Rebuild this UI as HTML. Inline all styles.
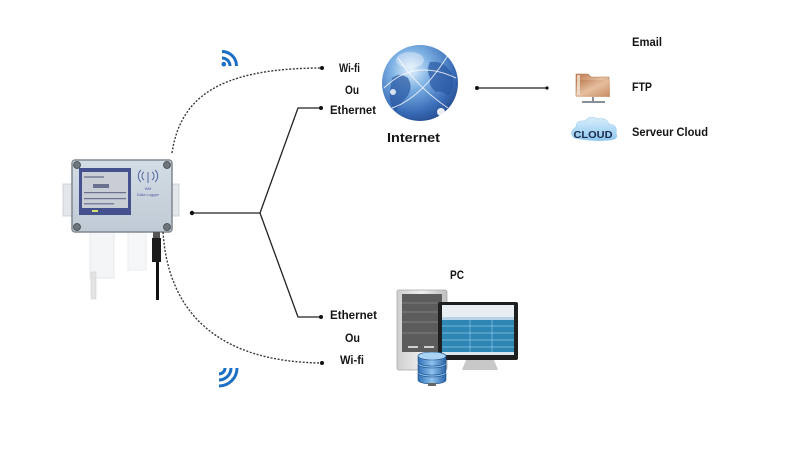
<!DOCTYPE html>
<html>
<head>
<meta charset="utf-8">
<style>
html,body{margin:0;padding:0;background:#fff;}
svg{display:block;}
text{font-family:"Liberation Sans",sans-serif;font-weight:bold;fill:#151515;}
</style>
</head>
<body>
<svg width="800" height="450" viewBox="0 0 800 450" xmlns="http://www.w3.org/2000/svg">
<defs>
  <radialGradient id="globe" cx="0.38" cy="0.32" r="0.75">
    <stop offset="0" stop-color="#e3f1fc"/>
    <stop offset="0.35" stop-color="#7cb0e3"/>
    <stop offset="0.75" stop-color="#3a6db8"/>
    <stop offset="1" stop-color="#23498c"/>
  </radialGradient>
  <linearGradient id="folder" x1="0" y1="0" x2="1" y2="1">
    <stop offset="0" stop-color="#b9764a"/>
    <stop offset="0.5" stop-color="#e6c0a0"/>
    <stop offset="1" stop-color="#c68a60"/>
  </linearGradient>
  <linearGradient id="box" x1="0" y1="0" x2="0" y2="1">
    <stop offset="0" stop-color="#d3dde6"/>
    <stop offset="1" stop-color="#bfcad4"/>
  </linearGradient>
  <linearGradient id="tower" x1="0" y1="0" x2="1" y2="0">
    <stop offset="0" stop-color="#cfcfcf"/>
    <stop offset="0.5" stop-color="#efefef"/>
    <stop offset="1" stop-color="#bdbdbd"/>
  </linearGradient>
  <linearGradient id="db" x1="0" y1="0" x2="1" y2="0">
    <stop offset="0" stop-color="#2f6fb5"/>
    <stop offset="0.5" stop-color="#8ec2ee"/>
    <stop offset="1" stop-color="#2b64a8"/>
  </linearGradient>
  <linearGradient id="cloud" x1="0" y1="0" x2="0" y2="1">
    <stop offset="0" stop-color="#d8eefc"/>
    <stop offset="1" stop-color="#8cc7ef"/>
  </linearGradient>
</defs>

<!-- ===== Device (data logger) ===== -->
<rect x="90" y="230" width="24" height="48" fill="#f4f5f6" stroke="#e6e8ea" stroke-width="1"/>
<rect x="128" y="230" width="18" height="40" fill="#f6f7f8" stroke="#eaecee" stroke-width="1"/>
<rect x="91" y="272" width="5" height="27" fill="#e3e3e3" stroke="#d3d3d3" stroke-width="0.6"/>
<rect x="63" y="184" width="10" height="32" fill="#e4e7ea" stroke="#c5cbd0" stroke-width="0.8"/>
<rect x="171" y="184" width="8" height="32" fill="#e4e7ea" stroke="#c5cbd0" stroke-width="0.8"/>
<rect x="72" y="160" width="100" height="72" rx="3" fill="url(#box)" stroke="#7e8890" stroke-width="1.5"/>
<circle cx="77" cy="165" r="3.5" fill="#6d747a" stroke="#3f4448" stroke-width="0.8"/>
<circle cx="167" cy="165" r="3.5" fill="#6d747a" stroke="#3f4448" stroke-width="0.8"/>
<circle cx="77" cy="227" r="3.5" fill="#6d747a" stroke="#3f4448" stroke-width="0.8"/>
<circle cx="167" cy="227" r="3.5" fill="#6d747a" stroke="#3f4448" stroke-width="0.8"/>
<rect x="79" y="168" width="52" height="47" fill="#44518e"/>
<rect x="82" y="172" width="46" height="36" fill="#c9cdd6"/>
<rect x="84" y="176" width="20" height="2" fill="#8a90a6"/>
<rect x="93" y="184" width="16" height="4" fill="#6b7290"/>
<rect x="84" y="192" width="42" height="1.2" fill="#6b7290"/>
<rect x="84" y="198" width="42" height="1.2" fill="#6b7290"/>
<rect x="84" y="203" width="30" height="1.5" fill="#7b82a0"/>
<rect x="92" y="210" width="6" height="2" fill="#d8e070"/>
<g stroke="#4a5aa0" stroke-width="0.9" fill="none">
  <line x1="148" y1="172" x2="148" y2="183"/>
  <path d="M144,172 a5,5 0 0 0 0,8"/>
  <path d="M152,172 a5,5 0 0 1 0,8"/>
  <path d="M141,170 a8,8 0 0 0 0,12"/>
  <path d="M155,170 a8,8 0 0 1 0,12"/>
</g>
<text x="148" y="190" font-size="4" text-anchor="middle" style="fill:#4a5aa0;font-weight:normal">Wifi</text>
<text x="148" y="196" font-size="4" text-anchor="middle" style="fill:#4a5aa0;font-weight:normal">Data Logger</text>
<rect x="153" y="232" width="7" height="6" fill="#555"/>
<rect x="152" y="238" width="9" height="24" fill="#1b1b1b"/>
<rect x="156" y="262" width="3" height="38" fill="#111"/>

<!-- ===== Connectors ===== -->
<g fill="none" stroke="#3a3a3a" stroke-width="1.4" stroke-dasharray="2 1.6">
  <path d="M172,153 C180,100 215,68 322,68"/>
  <path d="M163,232 C168,310 215,362 322,363"/>
</g>
<g fill="none" stroke="#222" stroke-width="1.3">
  <polyline points="192,213 260,213 298,108 321,108"/>
  <polyline points="260,213 298,317 321,317"/>
  <line x1="477" y1="88" x2="547" y2="88"/>
</g>
<g fill="#111">
  <circle cx="192" cy="213" r="2.2"/>
  <circle cx="322" cy="68" r="2"/>
  <circle cx="321" cy="108" r="2"/>
  <circle cx="321" cy="317" r="2"/>
  <circle cx="322" cy="363" r="2"/>
  <circle cx="477" cy="88" r="2"/>
  <circle cx="547" cy="88" r="1.6"/>
</g>

<!-- ===== Wifi icons ===== -->
<g fill="none" stroke="#1c6fc4" stroke-width="3">
  <path d="M222,58 a8,8 0 0 1 8,8"/>
  <path d="M222,51.5 a14.5,14.5 0 0 1 14.5,14.5"/>
</g>
<circle cx="223.8" cy="64.2" r="2.3" fill="#1c6fc4"/>
<g fill="none" stroke="#1c6fc4" stroke-width="3">
  <path d="M225,368 a6,6 0 0 1 -6,6"/>
  <path d="M231,368 a12,12 0 0 1 -12,12"/>
  <path d="M237,368 a18,18 0 0 1 -18,18"/>
</g>

<!-- ===== Labels ===== -->
<text x="339" y="72" font-size="12" textLength="21" lengthAdjust="spacingAndGlyphs">Wi-fi</text>
<text x="345" y="94" font-size="12" textLength="14" lengthAdjust="spacingAndGlyphs">Ou</text>
<text x="330" y="114" font-size="12" textLength="46" lengthAdjust="spacingAndGlyphs">Ethernet</text>

<text x="330" y="319" font-size="12" textLength="47" lengthAdjust="spacingAndGlyphs">Ethernet</text>
<text x="345" y="342" font-size="12" textLength="15" lengthAdjust="spacingAndGlyphs">Ou</text>
<text x="340" y="364" font-size="12" textLength="24" lengthAdjust="spacingAndGlyphs">Wi-fi</text>

<text x="387" y="142" font-size="12.5" textLength="53" lengthAdjust="spacingAndGlyphs">Internet</text>
<text x="632" y="46" font-size="12" textLength="30" lengthAdjust="spacingAndGlyphs">Email</text>
<text x="632" y="91" font-size="12" textLength="20" lengthAdjust="spacingAndGlyphs">FTP</text>
<text x="632" y="136" font-size="12" textLength="76" lengthAdjust="spacingAndGlyphs">Serveur Cloud</text>
<text x="450" y="279" font-size="12" textLength="14" lengthAdjust="spacingAndGlyphs">PC</text>

<!-- ===== Globe ===== -->
<circle cx="420" cy="83" r="38" fill="url(#globe)"/>
<g fill="#2a58a3" opacity="0.7">
  <path d="M430,62 q14,-2 22,12 q4,14 -4,22 q-6,-6 -12,-4 q-8,-6 -6,-14 q-4,-8 0,-16z"/>
  <path d="M392,78 q8,-6 16,0 q6,10 -2,20 q-6,6 -10,14 q-8,-10 -6,-22 z"/>
</g>
<g fill="none" stroke="#ffffff" stroke-width="1" opacity="0.8">
  <path d="M384,88 q30,-30 72,-10"/>
  <path d="M392,108 q30,-10 58,-56"/>
  <path d="M398,58 q20,30 50,50"/>
</g>
<circle cx="441" cy="112" r="4" fill="#ffffff" opacity="0.9"/>
<circle cx="393" cy="92" r="3" fill="#ffffff" opacity="0.8"/>
<ellipse cx="410" cy="60" rx="14" ry="8" fill="#ffffff" opacity="0.35"/>

<!-- ===== Folder (FTP) ===== -->
<path d="M576,74 h12 l3,3 h18 v19 h-33 z" fill="url(#folder)" stroke="#b07a55" stroke-width="0.6"/>
<path d="M576,80 h34 v17 h-34 z" fill="url(#folder)" opacity="0.85"/>
<rect x="577" y="75" width="3" height="20" fill="#f3e3d6" opacity="0.8"/>
<rect x="592" y="97" width="2" height="5" fill="#8a8f95"/>
<rect x="582" y="101" width="23" height="2" fill="#8a8f95"/>

<!-- ===== Cloud ===== -->
<path d="M574,138 q-6,-6 2,-11 q0,-7 9,-6 q5,-6 13,-2 q8,-2 11,5 q9,1 7,9 q3,6 -5,7 q-18,2 -37,-2z" fill="url(#cloud)" stroke="#9fcdee" stroke-width="0.6"/>
<text x="593" y="138" font-size="10.5" text-anchor="middle" textLength="39" lengthAdjust="spacingAndGlyphs" style="fill:#1c2a4c">CLOUD</text>

<!-- ===== PC ===== -->
<rect x="397" y="290" width="50" height="80" rx="2" fill="url(#tower)" stroke="#a8a8a8" stroke-width="0.8"/>
<rect x="402" y="294" width="40" height="58" fill="#5c5c5c"/>
<g stroke="#8a8a8a" stroke-width="0.8">
  <line x1="402" y1="303" x2="442" y2="303"/>
  <line x1="402" y1="312" x2="442" y2="312"/>
  <line x1="402" y1="322" x2="442" y2="322"/>
  <line x1="402" y1="333" x2="442" y2="333"/>
</g>
<rect x="408" y="346" width="10" height="2" fill="#cfcfcf"/>
<rect x="424" y="346" width="10" height="2" fill="#cfcfcf"/>
<path d="M466,360 h28 l4,10 h-36 z" fill="#c8c8c8"/>
<rect x="438" y="302" width="80" height="58" rx="2" fill="#1f1f1f"/>
<rect x="442" y="305" width="72" height="50" fill="#2d86b4"/>
<rect x="442" y="305" width="72" height="12" fill="#e9eef2"/>
<rect x="442" y="317" width="72" height="3" fill="#b7d3e6"/>
<g stroke="#8cc6e4" stroke-width="0.7">
  <line x1="442" y1="326" x2="514" y2="326"/>
  <line x1="442" y1="333" x2="514" y2="333"/>
  <line x1="442" y1="340" x2="514" y2="340"/>
  <line x1="442" y1="347" x2="514" y2="347"/>
  <line x1="470" y1="320" x2="470" y2="355"/>
  <line x1="492" y1="320" x2="492" y2="355"/>
</g>
<rect x="442" y="352" width="72" height="3" fill="#d9e6ee"/>
<g stroke="#1d4f8a" stroke-width="0.6">
  <path d="M418,373 v7 a14,4 0 0 0 28,0 v-7" fill="url(#db)"/>
  <ellipse cx="432" cy="373" rx="14" ry="4" fill="#7fb6e6"/>
  <path d="M418,364 v7 a14,4 0 0 0 28,0 v-7" fill="url(#db)"/>
  <ellipse cx="432" cy="364" rx="14" ry="4" fill="#7fb6e6"/>
  <path d="M418,356 v6 a14,4 0 0 0 28,0 v-6" fill="url(#db)"/>
  <ellipse cx="432" cy="356" rx="14" ry="4" fill="#a9d2f3"/>
</g>
<rect x="428" y="383" width="8" height="3" fill="#666"/>
</svg>
</body>
</html>
